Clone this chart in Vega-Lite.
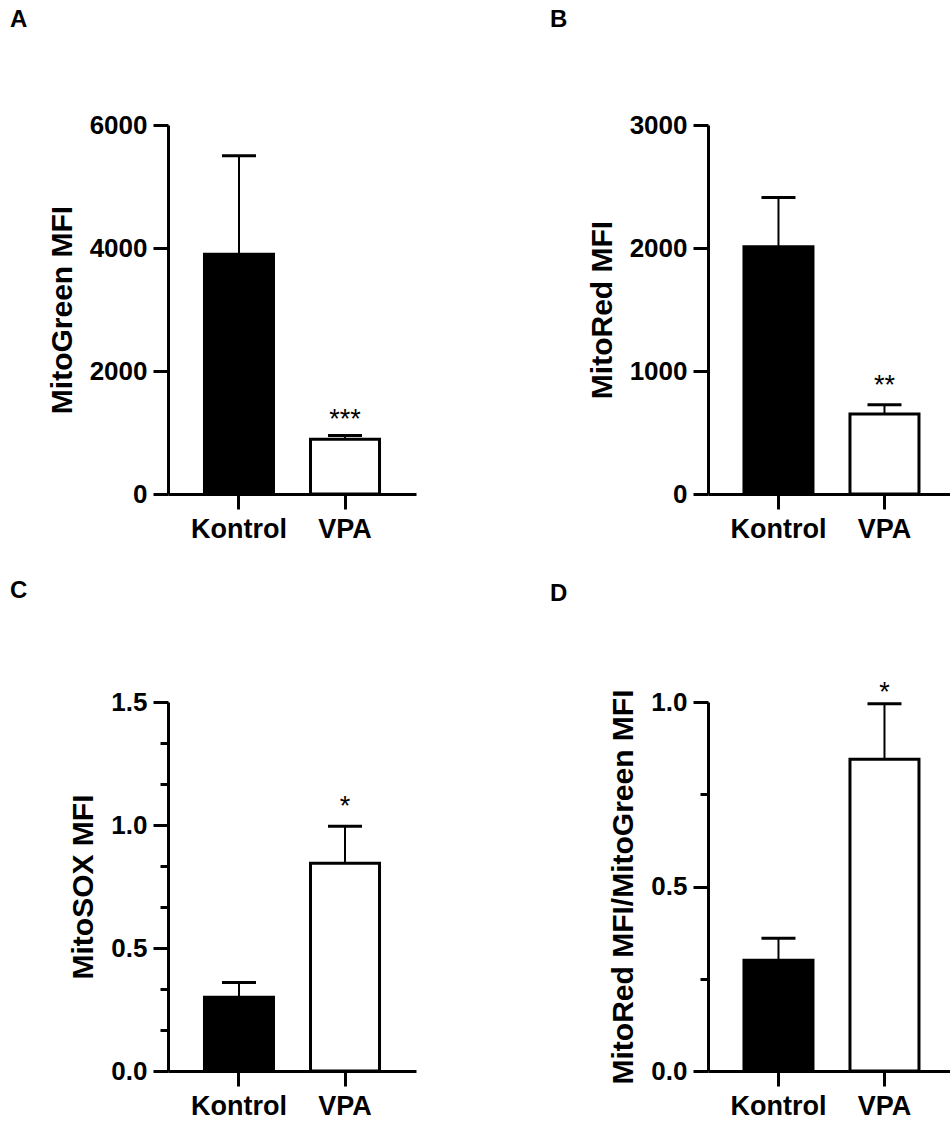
{
  "$schema": "https://vega.github.io/schema/vega-lite/v6.json",
  "padding": {"left": 10, "top": 8, "right": 0, "bottom": 0},
  "background": "white",
  "bounds": "flush",
  "columns": 2,
  "spacing": {"row": 208, "column": 292},
  "config": {
    "view": {"stroke": null},
    "font": "Liberation Sans",
    "axis": {
      "grid": false,
      "domainColor": "black",
      "domainWidth": 3,
      "tickColor": "black",
      "tickWidth": 3,
      "tickSize": 15,
      "labelColor": "black",
      "labelFont": "Liberation Sans",
      "labelFontWeight": "bold",
      "titleColor": "black",
      "titleFont": "Liberation Sans",
      "titleFontWeight": "bold"
    },
    "axisX": {"labelFontSize": 27, "labelPadding": 7, "labelAngle": 0, "title": null},
    "axisY": {"labelFontSize": 26, "labelPadding": 6, "titleFontSize": 30, "titlePadding": 12},
    "title": {"anchor": "start", "frame": "group", "fontSize": 24, "fontWeight": "bold", "font": "Liberation Sans", "color": "black", "dx": -158}
  },
  "concat": [
    {
      "title": {"text": "A", "offset": 80},
      "width": 248,
      "height": 369,
      "data": {"values": [
        {"group": "Kontrol", "mean": 3900, "upper": 5500, "star": ""},
        {"group": "VPA", "mean": 890, "upper": 950, "star": "***"}
      ]},
      "encoding": {
        "x": {"field": "group", "type": "nominal", "sort": ["Kontrol", "VPA"], "scale": {"paddingInner": 0.349, "paddingOuter": 0.344, "align": 0.5}}
      },
      "layer": [
        {"mark": {"type": "rule", "strokeWidth": 2, "color": "black"},
         "encoding": {"y": {"field": "mean", "type": "quantitative"}, "y2": {"field": "upper"}}},
        {"mark": {"type": "tick", "size": 34, "thickness": 3, "color": "black", "opacity": 1},
         "encoding": {"y": {"field": "upper", "type": "quantitative"}}},
        {"mark": {"type": "bar", "stroke": "black", "strokeWidth": 3, "opacity": 1},
         "encoding": {
           "y": {"field": "mean", "type": "quantitative", "scale": {"domain": [0, 6000], "nice": false},
                 "axis": {"values": [0, 2000, 4000, 6000], "format": "d", "title": "MitoGreen MFI"}},
           "fill": {"field": "group", "type": "nominal", "scale": {"domain": ["Kontrol", "VPA"], "range": ["black", "white"]}, "legend": null}
         }},
        {"mark": {"type": "text", "fontSize": 27, "baseline": "alphabetic", "dy": -8, "color": "black"},
         "encoding": {"y": {"field": "upper", "type": "quantitative"}, "text": {"field": "star"}}}
      ]
    },
    {
      "title": {"text": "B", "offset": 80},
      "width": 242,
      "height": 369,
      "data": {"values": [
        {"group": "Kontrol", "mean": 2010, "upper": 2410, "star": ""},
        {"group": "VPA", "mean": 650, "upper": 725, "star": "**"}
      ]},
      "encoding": {
        "x": {"field": "group", "type": "nominal", "sort": ["Kontrol", "VPA"], "scale": {"paddingInner": 0.349, "paddingOuter": 0.316, "align": 0.537}}
      },
      "layer": [
        {"mark": {"type": "rule", "strokeWidth": 2, "color": "black"},
         "encoding": {"y": {"field": "mean", "type": "quantitative"}, "y2": {"field": "upper"}}},
        {"mark": {"type": "tick", "size": 34, "thickness": 3, "color": "black", "opacity": 1},
         "encoding": {"y": {"field": "upper", "type": "quantitative"}}},
        {"mark": {"type": "bar", "stroke": "black", "strokeWidth": 3, "opacity": 1},
         "encoding": {
           "y": {"field": "mean", "type": "quantitative", "scale": {"domain": [0, 3000], "nice": false},
                 "axis": {"values": [0, 1000, 2000, 3000], "format": "d", "title": "MitoRed MFI"}},
           "fill": {"field": "group", "type": "nominal", "scale": {"domain": ["Kontrol", "VPA"], "range": ["black", "white"]}, "legend": null}
         }},
        {"mark": {"type": "text", "fontSize": 27, "baseline": "alphabetic", "dy": -11, "color": "black"},
         "encoding": {"y": {"field": "upper", "type": "quantitative"}, "text": {"field": "star"}}}
      ]
    },
    {
      "title": {"text": "C", "offset": 86},
      "width": 248,
      "height": 369,
      "data": {"values": [
        {"group": "Kontrol", "mean": 0.30, "upper": 0.36, "star": ""},
        {"group": "VPA", "mean": 0.845, "upper": 0.995, "star": "*"}
      ]},
      "encoding": {
        "x": {"field": "group", "type": "nominal", "sort": ["Kontrol", "VPA"], "scale": {"paddingInner": 0.349, "paddingOuter": 0.344, "align": 0.5}}
      },
      "layer": [
        {"mark": {"type": "rule", "strokeWidth": 2, "color": "black"},
         "encoding": {"y": {"field": "mean", "type": "quantitative"}, "y2": {"field": "upper"}}},
        {"mark": {"type": "tick", "size": 34, "thickness": 3, "color": "black", "opacity": 1},
         "encoding": {"y": {"field": "upper", "type": "quantitative"}}},
        {"mark": {"type": "bar", "stroke": "black", "strokeWidth": 3, "opacity": 1},
         "encoding": {
           "y": {"field": "mean", "type": "quantitative", "scale": {"domain": [0, 1.5], "nice": false},
                 "axis": {"values": [0, 0.16667, 0.33333, 0.5, 0.66667, 0.83333, 1, 1.16667, 1.33333, 1.5],
                          "labelExpr": "abs(datum.value*2 - round(datum.value*2)) < 0.001 ? format(datum.value, '.1f') : ''",
                          "tickSize": {"condition": {"test": "abs(datum.value*2 - round(datum.value*2)) > 0.001", "value": 8}, "value": 15},
                          "title": "MitoSOX MFI"}},
           "fill": {"field": "group", "type": "nominal", "scale": {"domain": ["Kontrol", "VPA"], "range": ["black", "white"]}, "legend": null}
         }},
        {"mark": {"type": "text", "fontSize": 27, "baseline": "alphabetic", "dy": -11, "color": "black"},
         "encoding": {"y": {"field": "upper", "type": "quantitative"}, "text": {"field": "star"}}}
      ]
    },
    {
      "title": {"text": "D", "offset": 73},
      "width": 242,
      "height": 369,
      "data": {"values": [
        {"group": "Kontrol", "mean": 0.30, "upper": 0.36, "star": ""},
        {"group": "VPA", "mean": 0.845, "upper": 0.995, "star": "*"}
      ]},
      "encoding": {
        "x": {"field": "group", "type": "nominal", "sort": ["Kontrol", "VPA"], "scale": {"paddingInner": 0.349, "paddingOuter": 0.316, "align": 0.537}}
      },
      "layer": [
        {"mark": {"type": "rule", "strokeWidth": 2, "color": "black"},
         "encoding": {"y": {"field": "mean", "type": "quantitative"}, "y2": {"field": "upper"}}},
        {"mark": {"type": "tick", "size": 34, "thickness": 3, "color": "black", "opacity": 1},
         "encoding": {"y": {"field": "upper", "type": "quantitative"}}},
        {"mark": {"type": "bar", "stroke": "black", "strokeWidth": 3, "opacity": 1},
         "encoding": {
           "y": {"field": "mean", "type": "quantitative", "scale": {"domain": [0, 1], "nice": false},
                 "axis": {"values": [0, 0.25, 0.5, 0.75, 1],
                          "labelExpr": "abs(datum.value*2 - round(datum.value*2)) < 0.001 ? format(datum.value, '.1f') : ''",
                          "tickSize": {"condition": {"test": "abs(datum.value*2 - round(datum.value*2)) > 0.001", "value": 8}, "value": 15},
                          "title": "MitoRed MFI/MitoGreen MFI"}},
           "fill": {"field": "group", "type": "nominal", "scale": {"domain": ["Kontrol", "VPA"], "range": ["black", "white"]}, "legend": null}
         }},
        {"mark": {"type": "text", "fontSize": 27, "baseline": "alphabetic", "dy": -3, "color": "black"},
         "encoding": {"y": {"field": "upper", "type": "quantitative"}, "text": {"field": "star"}}}
      ]
    }
  ]
}
